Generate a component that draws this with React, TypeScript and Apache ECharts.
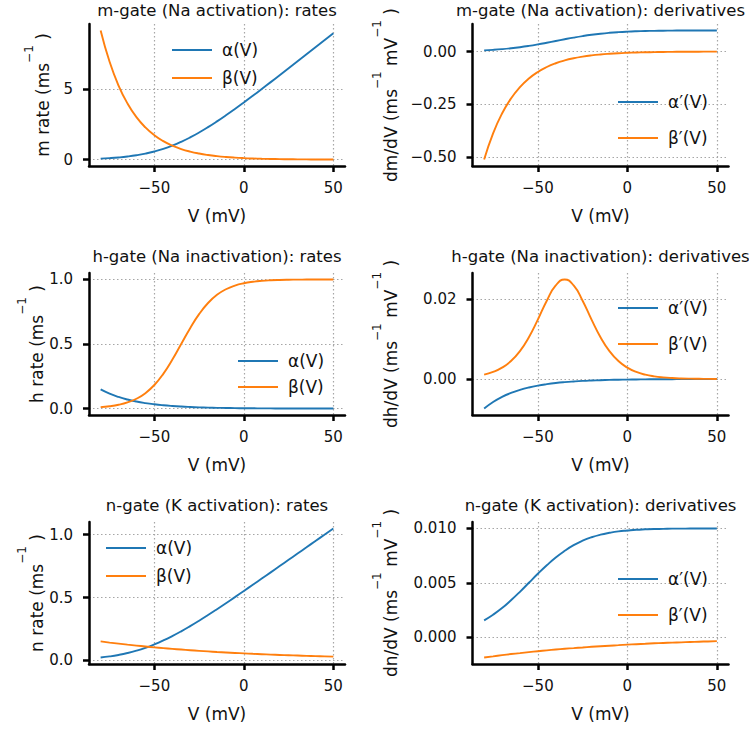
import React, { useEffect, useRef } from 'react';
import * as echarts from 'echarts';

const V = [-80, -75, -70, -65, -60, -55, -50, -45, -40, -35, -30, -25, -20, -15, -10, -5, 0, 5, 10, 15, 20, 25, 30, 35, 40, 45, 50];

const mAlpha = [0.0746, 0.109, 0.1572, 0.2236, 0.313, 0.4308, 0.582, 0.7707, 1.0, 1.2707, 1.582, 1.9308, 2.313, 2.7236, 3.1572, 3.609, 4.0746, 4.5506, 5.0339, 5.5226, 6.0149, 6.5098, 7.0064, 7.5041, 8.0027, 8.5017, 9.0011];
const mBeta = [9.204, 6.972, 5.281, 4.0, 3.03, 2.295, 1.738, 1.317, 0.9975, 0.7556, 0.5724, 0.4336, 0.3283, 0.2487, 0.1884, 0.1427, 0.1081, 0.0819, 0.062, 0.047, 0.0356, 0.027, 0.0204, 0.0155, 0.0117, 0.0089, 0.0067];
const mAlphaD = [0.00574, 0.00812, 0.0113, 0.01541, 0.02055, 0.02674, 0.03387, 0.04174, 0.05, 0.05826, 0.06613, 0.07327, 0.07945, 0.08459, 0.0887, 0.09188, 0.09426, 0.09601, 0.09726, 0.09814, 0.09875, 0.09917, 0.09945, 0.09964, 0.09977, 0.09985, 0.0999];
const mBetaD = [-0.5113, -0.3873, -0.2934, -0.2222, -0.1683, -0.1275, -0.0966, -0.0732, -0.0554, -0.042, -0.0318, -0.0241, -0.0182, -0.0138, -0.0105, -0.0079, -0.006, -0.0045, -0.0034, -0.0026, -0.002, -0.0015, -0.0011, -0.00086, -0.00065, -0.00049, -0.00037];

const hAlpha = [0.1482, 0.1154, 0.0899, 0.07, 0.0545, 0.0425, 0.0331, 0.0258, 0.0201, 0.0156, 0.0122, 0.00947, 0.00738, 0.00575, 0.00447, 0.00349, 0.00271, 0.00211, 0.00165, 0.00128, 0.001, 0.00078, 0.00061, 0.00047, 0.00037, 0.00029, 0.00022];
const hBeta = [0.011, 0.018, 0.0293, 0.0474, 0.0759, 0.1192, 0.1824, 0.2689, 0.3775, 0.5, 0.6225, 0.7311, 0.8176, 0.8808, 0.9241, 0.9526, 0.9707, 0.982, 0.989, 0.9933, 0.9959, 0.9975, 0.9985, 0.9991, 0.9994, 0.9997, 0.9998];
const hAlphaD = [-0.00741, -0.00577, -0.00449, -0.0035, -0.00273, -0.00212, -0.00165, -0.00129, -0.001, -0.00078, -0.00061, -0.00047, -0.00037, -0.00029, -0.00022, -0.00017, -0.00014, -0.00011, -0.00008, -0.00006, -0.00005, -0.00004, -0.00003, -0.00002, -0.00002, -0.00001, -0.00001];
const hBetaD = [0.00109, 0.00177, 0.00285, 0.00452, 0.00701, 0.0105, 0.01491, 0.01966, 0.0235, 0.025, 0.0235, 0.01966, 0.01491, 0.0105, 0.00701, 0.00452, 0.00285, 0.00177, 0.00109, 0.00067, 0.00041, 0.00025, 0.00015, 0.00009, 0.00006, 0.00003, 0.00002];

const nAlpha = [0.0224, 0.0313, 0.0431, 0.0582, 0.0771, 0.1, 0.1271, 0.1582, 0.1931, 0.2313, 0.2724, 0.3157, 0.3609, 0.4075, 0.4551, 0.5034, 0.5523, 0.6015, 0.651, 0.7006, 0.7504, 0.8003, 0.8502, 0.9001, 0.9501, 1.0, 1.05];
const nBeta = [0.1508, 0.1416, 0.1331, 0.125, 0.1174, 0.1103, 0.1036, 0.0974, 0.0915, 0.0859, 0.0807, 0.0758, 0.0712, 0.0669, 0.0629, 0.059, 0.0555, 0.0521, 0.049, 0.046, 0.0432, 0.0406, 0.0381, 0.0358, 0.0336, 0.0316, 0.0297];
const nAlphaD = [0.00154, 0.00206, 0.00267, 0.00339, 0.00417, 0.005, 0.00583, 0.00661, 0.00733, 0.00794, 0.00846, 0.00887, 0.00919, 0.00943, 0.0096, 0.00973, 0.00981, 0.00988, 0.00992, 0.00995, 0.00996, 0.00998, 0.00998, 0.00999, 0.00999, 0.01, 0.01];
const nBetaD = [-0.00188, -0.00177, -0.00166, -0.00156, -0.00147, -0.00138, -0.0013, -0.00122, -0.00114, -0.00107, -0.00101, -0.00095, -0.00089, -0.00084, -0.00079, -0.00074, -0.00069, -0.00065, -0.00061, -0.00057, -0.00054, -0.00051, -0.00048, -0.00045, -0.00042, -0.0004, -0.00037];

const xTicks = [-50, 0, 50];
const mRateTicks = [0, 5];
const mDerivTicks = [-0.5, -0.25, 0];
const hRateTicks = [0, 0.5, 1];
const hDerivTicks = [0, 0.02];
const nRateTicks = [0, 0.5, 1];
const nDerivTicks = [0, 0.005, 0.01];

const titles = [
  'm-gate (Na activation): rates',
  'm-gate (Na activation): derivatives',
  'h-gate (Na inactivation): rates',
  'h-gate (Na inactivation): derivatives',
  'n-gate (K activation): rates',
  'n-gate (K activation): derivatives',
];
const yNames = [
  '{t|m rate (ms}{s|−1}{t| )}',
  '{t|dm/dV (ms}{s|−1}{t| mV}{s|−1}{t| )}',
  '{t|h rate (ms}{s|−1}{t| )}',
  '{t|dh/dV (ms}{s|−1}{t| mV}{s|−1}{t| )}',
  '{t|n rate (ms}{s|−1}{t| )}',
  '{t|dn/dV (ms}{s|−1}{t| mV}{s|−1}{t| )}',
];
const rateNames = ['α(V)', 'β(V)'];
const derivNames = ['α′(V)', 'β′(V)'];
const xName = 'V (mV)';

const FONT = '"DejaVu Sans", Verdana, sans-serif';
const BLUE = '#1f77b4';
const ORANGE = '#ff7f0e';

const panels = [
  { a: mAlpha, b: mBeta, names: rateNames, ticks: mRateTicks, dec: 0, leg: [172, 40], gap: 8 },
  { a: mAlphaD, b: mBetaD, names: derivNames, ticks: mDerivTicks, dec: 2, leg: [618, 92], gap: 16 },
  { a: hAlpha, b: hBeta, names: rateNames, ticks: hRateTicks, dec: 1, leg: [238, 351], gap: 6 },
  { a: hAlphaD, b: hBetaD, names: derivNames, ticks: hDerivTicks, dec: 2, leg: [618, 298], gap: 16 },
  { a: nAlpha, b: nBeta, names: rateNames, ticks: nRateTicks, dec: 1, leg: [106, 538], gap: 8 },
  { a: nAlphaD, b: nBetaD, names: derivNames, ticks: nDerivTicks, dec: 3, leg: [618, 569], gap: 16 },
];

const colLeft = [89, 472.5];
const rowTop = [24, 273, 522];
const titleY = [10, 256, 505];
const GW = 256;
const GH = 142;

const fmt = (v: number, d: number) => {
  const s = Math.abs(v).toFixed(d);
  return v < 0 ? '−' + s : s;
};

function buildOption() {
  const grid: any[] = [];
  const xAxis: any[] = [];
  const yAxis: any[] = [];
  const series: any[] = [];
  const legend: any[] = [];
  const graphic: any[] = [];
  panels.forEach((p, i) => {
    const r = Math.floor(i / 2);
    const c = i % 2;
    grid.push({ left: colLeft[c], top: rowTop[r], width: GW, height: GH, containLabel: false, outerBoundsMode: 'none' });
    const all = p.a.concat(p.b);
    const lo = Math.min(...all);
    const hi = Math.max(...all);
    const pad = (hi - lo) * 0.05;
    const axisLine = { show: true, onZero: false, lineStyle: { color: '#000', width: 2.5 } };
    const axisTickBase = { show: true, length: 6, lineStyle: { color: '#000', width: 2.5 } };
    const splitLine = { show: true, lineStyle: { color: '#a6a6a6', width: 1.2, type: [1.5, 2.5] } };
    xAxis.push({
      type: 'value', gridIndex: i, min: -86.5, max: 56.5,
      axisLine, axisTick: { ...axisTickBase, customValues: xTicks },
      axisLabel: { customValues: xTicks, formatter: (v: number) => fmt(v, 0), fontSize: 15, fontFamily: FONT, color: '#111', margin: 14 },
      splitLine: { ...splitLine, customValues: xTicks },
      name: xName, nameLocation: 'middle', nameGap: 40,
      nameTextStyle: { fontSize: 17, fontFamily: FONT, color: '#111', lineHeight: 20 },
    });
    yAxis.push({
      type: 'value', gridIndex: i, min: lo - pad, max: hi + pad,
      axisLine, axisTick: { ...axisTickBase, customValues: p.ticks },
      axisLabel: { customValues: p.ticks, formatter: (v: number) => fmt(v, p.dec), fontSize: 15, fontFamily: FONT, color: '#111', margin: 16 },
      splitLine: { ...splitLine, customValues: p.ticks },
      name: yNames[i], nameLocation: 'middle', nameGap: c === 0 ? 37.5 : 73,
      nameTextStyle: {
        fontFamily: FONT, color: '#111',
        rich: {
          t: { fontSize: 17, fontFamily: FONT, color: '#111', lineHeight: 29, verticalAlign: 'bottom' },
          s: { fontSize: 12, fontFamily: FONT, color: '#111', verticalAlign: 'top' },
        },
      },
    });
    [p.a, p.b].forEach((arr, k) => {
      series.push({
        type: 'line', name: p.names[k], xAxisIndex: i, yAxisIndex: i,
        data: V.map((v, j) => [v, arr[j]]),
        showSymbol: false, symbol: 'none', smooth: 0.5,
        lineStyle: { width: 1.9, color: k === 0 ? BLUE : ORANGE },
        itemStyle: { color: k === 0 ? BLUE : ORANGE },
        emphasis: { disabled: true },
      });
    });
    legend.push({
      data: p.names.map((n) => ({ name: n, icon: 'rect' })), orient: 'vertical', left: p.leg[0], top: p.leg[1], padding: 0,
      itemWidth: 40, itemHeight: 2, itemGap: p.gap, selectedMode: false,
      textStyle: { fontSize: 17, fontFamily: FONT, color: '#111', lineHeight: 20, padding: [0, 0, 0, 5] },
    });
    graphic.push({
      type: 'text', x: colLeft[c] + GW / 2, y: titleY[r],
      style: { text: titles[i], fontSize: 16.5, fontFamily: FONT, fill: '#111', align: 'center', verticalAlign: 'middle' },
    });
  });
  return { animation: false, backgroundColor: '#fff', grid, xAxis, yAxis, series, legend, graphic };
}

export default function App() {
  const ref = useRef<HTMLDivElement>(null);
  useEffect(() => {
    if (!ref.current) return;
    const chart = echarts.init(ref.current, null, { renderer: 'svg' });
    chart.setOption(buildOption() as any);
    return () => chart.dispose();
  }, []);
  return <div ref={ref} style={{ position: 'fixed', left: 0, top: 0, width: 749, height: 731 }} />;
}
